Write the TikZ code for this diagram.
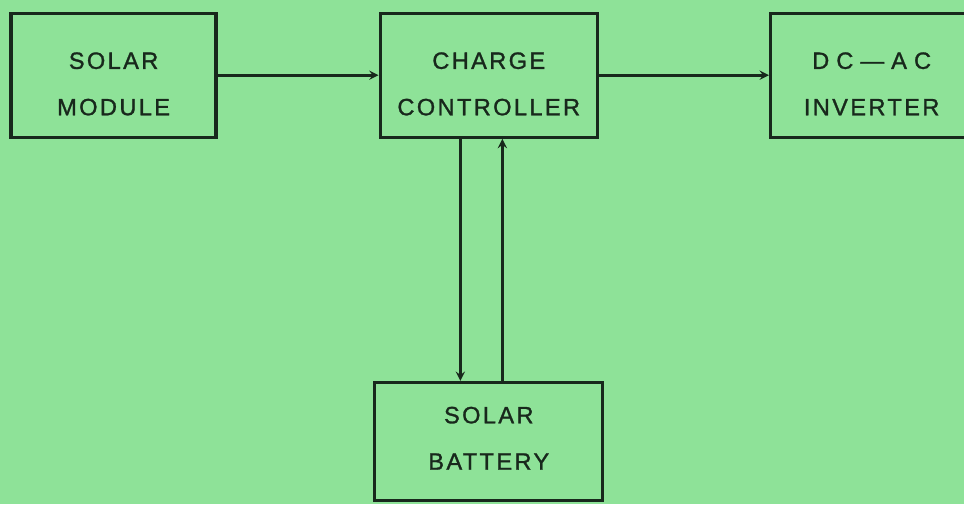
\documentclass[tikz,border=0pt]{standalone}
\usepackage{fontspec}
\setmainfont{Liberation Sans}
\usepackage{tikz}
\usetikzlibrary{arrows,positioning}
\definecolor{bggreen}{RGB}{142,226,152}
\definecolor{inkline}{RGB}{24,40,28}
\tikzstyle{block} = [rectangle, draw=inkline, line width=2.4pt, text=inkline, align=center, minimum height=3.1cm, text height=57pt, text depth=0pt, font=\fontsize{16.8}{33}\selectfont\addfontfeature{LetterSpace=10,FakeBold=1.2}]
\tikzstyle{arrow} = [line width=1.9pt, draw=inkline, ->, >=stealth]

\begin{document}
\begin{tikzpicture}[node distance=4cm]
    \fill[bggreen] (0,0) rectangle (24.1,12.6);
    \clip (0,0) rectangle (24.1,12.6);
    \node[block, minimum width=5.125cm] (module) at (2.84,10.72) {SOLAR\\MODULE};
    \node[block, minimum width=5.425cm, right=4.02cm of module] (ctrl) {CHARGE\\CONTROLLER};
    \node[block, minimum width=5.05cm, right=4.25cm of ctrl] (inv) {{\addfontfeature{LetterSpace=30}DC—AC}\\INVERTER};
    \node[block, minimum width=5.7cm, minimum height=2.95cm, text height=40pt, below=6.05cm of ctrl] (bat) {SOLAR\\BATTERY};
    \draw[arrow] (module)--(ctrl); \draw[arrow] (ctrl)--(inv);
    \draw[arrow] ([xshift=-0.71cm]ctrl.south)--([xshift=-0.71cm]bat.north);
    \draw[arrow] ([xshift=0.34cm]bat.north)--([xshift=0.34cm]ctrl.south);
\end{tikzpicture}
\end{document}
